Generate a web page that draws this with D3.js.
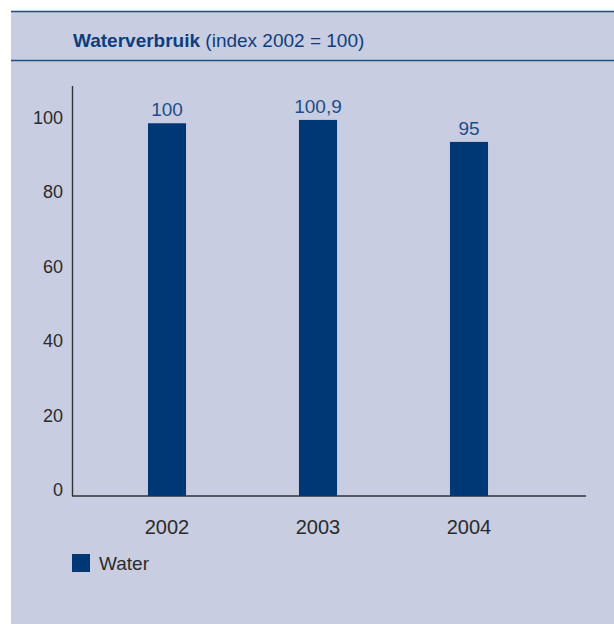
<!DOCTYPE html>
<html>
<head>
<meta charset="utf-8">
<script src="https://cdn.jsdelivr.net/npm/d3@7"></script>
<style>
	body { margin: 0; background: #fff; }
	svg { display: block; font-family: "Liberation Sans", Arial, sans-serif; }
</style>
</head>
<body>
<div class="c_chart"></div>
<script>
/*DATA
------------------------------------------------------
*/
const years = ["2002", "2003", "2004"];
const water = [100, 100.9, 95];
const valueLabels = ["100", "100,9", "95"];
const yTicks = [0, 20, 40, 60, 80, 100];
const seriesName = "Water";

/*SVG
------------------------------------------------------
*/
const width = 614;
const height = 624;

let svg = d3.select(".c_chart")
	.append("svg")
	.attr("width", width)
	.attr("height", height);

//panneau de fond
svg.append("rect")
	.attr("x", 11).attr("y", 11)
	.attr("width", width - 11).attr("height", height - 11)
	.attr("fill", "#c8cde1");

svg.append("line")
	.attr("x1", 11).attr("x2", width)
	.attr("y1", 11.5).attr("y2", 11.5)
	.attr("stroke", "#1c4a8a").attr("stroke-width", 1.6);

svg.append("line")
	.attr("x1", 11).attr("x2", width)
	.attr("y1", 60.5).attr("y2", 60.5)
	.attr("stroke", "#1f4e8c").attr("stroke-width", 1.4);

//titre
let title = svg.append("text")
	.attr("x", 73).attr("y", 47)
	.attr("font-size", 19)
	.attr("fill", "#0d3d7e");
title.append("tspan").attr("font-weight", "bold").text("Waterverbruik");
title.append("tspan").text(" (index 2002 = 100)");

/*SCALES
------------------------------------------------------
*/
let x = d3.scaleBand()
	.domain(years)
	.range([91.5, 544.5])
	.paddingInner(0.748)
	.paddingOuter(0.374);

let y = d3.scaleLinear()
	.domain([0, 110])
	.range([496, 86]);

/*AXES
------------------------------------------------------
*/
svg.append("line")
	.attr("x1", 72.5).attr("x2", 72.5)
	.attr("y1", y(110)).attr("y2", y(0))
	.attr("stroke", "#333").attr("stroke-width", 1.4);

svg.append("line")
	.attr("x1", 72).attr("x2", 586)
	.attr("y1", y(0)).attr("y2", y(0))
	.attr("stroke", "#333").attr("stroke-width", 1.6);

svg.selectAll(".ytick")
	.data(yTicks)
	.enter()
	.append("text")
	.attr("class", "ytick")
	.attr("x", 63)
	.attr("y", d => y(d) - 6)
	.attr("dy", "0.35em")
	.attr("text-anchor", "end")
	.attr("font-size", 18)
	.attr("fill", "#2b2b2b")
	.text(d => d);

svg.selectAll(".xtick")
	.data(years)
	.enter()
	.append("text")
	.attr("class", "xtick")
	.attr("x", d => x(d) + x.bandwidth() / 2)
	.attr("y", 534)
	.attr("text-anchor", "middle")
	.attr("font-size", 20)
	.attr("fill", "#2b2b2b")
	.text(d => d);

/*BARS
------------------------------------------------------
*/
svg.selectAll(".bar")
	.data(water)
	.enter()
	.append("rect")
	.attr("class", "bar")
	.attr("x", (d, i) => x(years[i]))
	.attr("y", d => y(d))
	.attr("width", x.bandwidth())
	.attr("height", d => y(0) - y(d))
	.attr("fill", "#003876");

svg.selectAll(".val")
	.data(water)
	.enter()
	.append("text")
	.attr("class", "val")
	.attr("x", (d, i) => x(years[i]) + x.bandwidth() / 2)
	.attr("y", d => y(d) - 7)
	.attr("text-anchor", "middle")
	.attr("font-size", 19)
	.attr("fill", "#1d4d8c")
	.text((d, i) => valueLabels[i]);

/*LEGENDE
------------------------------------------------------
*/
svg.append("rect")
	.attr("x", 72).attr("y", 554)
	.attr("width", 18).attr("height", 18)
	.attr("fill", "#003876");

svg.append("text")
	.attr("x", 99).attr("y", 570)
	.attr("font-size", 19)
	.attr("fill", "#2b2b2b")
	.text(seriesName);
</script>
</body>
</html>
